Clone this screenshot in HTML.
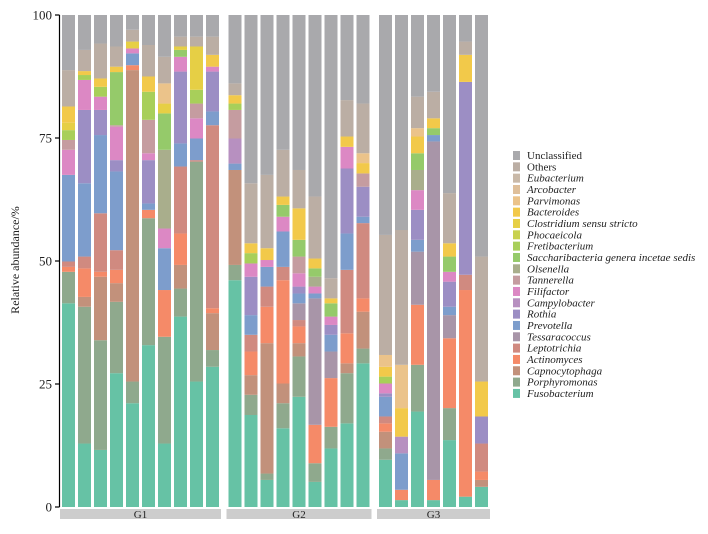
<!DOCTYPE html>
<html><head><meta charset="utf-8"><style>
body{margin:0;background:#fff;width:708px;height:529px;overflow:hidden}
svg text{font-family:"Liberation Serif",serif}
</style></head><body>
<svg id="chart" width="708" height="529" xmlns="http://www.w3.org/2000/svg"></svg>
<script>
const categories=["Fusobacterium","Porphyromonas","Capnocytophaga","Actinomyces","Leptotrichia","Tessaracoccus","Prevotella","Rothia","Campylobacter","Filifactor","Tannerella","Olsenella","Saccharibacteria genera incetae sedis","Fretibacterium","Phocaeicola","Clostridium sensu stricto","Bacteroides","Parvimonas","Arcobacter","Eubacterium","Others","Unclassified"];
const colors=["#66c2a5","#8fa98d","#c2917b","#f58a68","#d08a80","#a895a8","#7d9dcc","#9c8ec4","#b790c0","#dc88c4","#c59ca0","#a9ae8c","#95ca6a","#a8cf5a","#c8d14e","#e6cf45","#f2c94a","#ebc38a","#dfbf9a","#c9b9a8","#bbaea4","#a9a9ac"];
const groups=["G1","G2","G3"];
const groupSizes=[10,9,7];
const yTicks=[0,25,50,75,100];
const abundance=[
[41.4,6.4,0,1.0,1.1,0,17.6,0,0,5.1,2.0,0,0,2.0,0,1.5,3.3,0,0,0,7.4,11.2],
[12.9,27.8,2.0,5.8,2.4,0,14.9,14.9,0,6.1,0,0,0,1.0,0,0,0.8,0,0,0,4.3,7.1],
[11.6,22.3,12.9,1.0,11.9,0,15.9,5.1,0,2.7,0,0,0,2.0,0,0,1.7,0,0,0,7.1,5.8],
[27.2,14.5,3.8,2.7,4.0,0,16.0,2.3,0,6.8,0.3,0,10.8,0,0,0,1.1,0,0,0,4.1,6.4],
[21.1,4.4,63.3,1.0,0,0,2.4,0,0,1.0,0,0,0,0,0,1.4,0,0,0,0,2.4,3.0],
[32.9,25.8,0,1.7,0,0,1.3,8.8,0,1.4,6.8,0,0,5.7,0,0,3.1,0,0,0,6.4,6.1],
[12.9,21.7,0,9.5,0,0,8.5,0,0,4.0,0,16.0,7.4,0,0,2.0,0,4.1,0,0,5.4,8.5],
[38.7,5.7,4.8,6.4,13.6,0,4.7,14.6,0,3.0,0,0,1.4,0,0,0.7,0,0,0,0,2.0,4.4],
[25.5,44.7,0,0,0.3,0,4.4,0,0,4.1,3.0,0,0,2.8,0,8.8,0,0,0,0,2.0,4.4],
[28.5,3.4,7.5,1.0,37.2,0,2.8,8.1,0,1.0,0,0,0,0,0,0,2.4,0,0,0,3.7,4.4],
[46.1,3.1,19.3,0,0,0,1.3,0,5.1,0,5.8,0,0,1.3,0,0,1.7,0,0,0,2.4,13.9],
[18.7,4.1,4.0,4.8,3.4,0,4.0,7.8,0,2.7,0,0,0,2.1,0,0,2.0,0,0,0,12.2,34.2],
[5.5,1.3,26.5,7.4,4.1,0,4.0,0,0,1.4,0,0,0,0,0,0,2.4,0,0,0,14.9,32.5],
[16.0,5.1,4.0,21.0,2.7,0,7.2,0,0,3.0,0,0,2.4,0,0,0,1.7,0,0,0,9.5,27.4],
[22.4,8.2,2.7,3.4,1.3,3.4,2.0,1.4,0,2.7,3.4,0,3.4,0,0,0,6.4,0,0,0,7.8,31.5],
[5.1,3.8,0,7.8,0,25.7,1.0,0,0,1.4,0,2.0,1.7,0,0,0,2.0,0,0,0,12.6,36.9],
[11.9,4.4,0,9.9,0,5.4,3.4,2.0,0,1.7,0,0,2.7,0,0,0,1.0,0,0,0,4.1,53.5],
[17.0,10.2,2.0,6.1,12.9,0,7.4,13.2,0,4.4,0,0,0,0,0,0,2.1,0,0,0,7.4,17.3],
[29.2,3.0,7.5,2.7,15.3,0,1.3,6.1,0,0,2.7,0,0,0,0,0,2.1,2.0,0,0,10.1,18.0],
[9.6,2.3,3.4,1.7,1.4,0,4.0,0.7,0,2.0,0,0,0,1.4,0,0,2.0,2.4,0,0,24.4,44.7],
[1.4,0,0,2.1,0,0,7.4,0,3.4,0,0,0,0,0,0,0,5.8,8.8,0,0,27.4,43.7],
[19.4,9.5,0,12.2,0,10.8,2.4,6.1,0,4.0,0,4.1,3.4,0,0,0,3.4,1.7,0,0,6.4,16.6],
[1.4,0,0,4.1,0,68.8,1.3,0,0,0,0,0,1.4,0,0,0,2.0,0,0,0,5.4,15.6],
[13.6,6.5,0,14.2,0,4.7,1.7,5.1,0,2.0,0,0,3.1,0,0,0,2.7,0,0,0,10.2,36.2],
[2.1,0,0,42.0,3.1,0,0,39.2,0,0,0,0,0,0,0,0,5.5,0,0,0,2.7,5.4],
[4.1,0,1.4,1.7,5.7,0,0,5.5,0,0,0,0,0,0,0,0,7.1,0,0,0,25.4,49.1]
];
const NS="http://www.w3.org/2000/svg";
const svg=document.getElementById('chart');
function mk(t,a,p){const e=document.createElementNS(NS,t);for(const k in a)e.setAttribute(k,a[k]);(p||svg).appendChild(e);return e;}
const y0=507,y1=15;
function yScale(v){return y0-(v/100)*(y0-y1);}
function xScale(i){let g=0,c=0;for(let k=0;k<groupSizes.length;k++){if(i<c+groupSizes[k]){g=k;break;}c+=groupSizes[k];}return 62+16*i+6.5*g;}
const bw=13;
// bars
abundance.forEach((row,i)=>{
  const g=mk('g',{});
  
  
  let cum=0;
  row.forEach((v,j)=>{
    if(v<=0)return;
    const top=(j===row.length-1)?100:Math.min(100,cum+v);
    const r=mk('rect',{x:xScale(i),y:yScale(top),width:bw,height:yScale(cum)-yScale(top),fill:colors[j]},g);
    
    
    cum+=v;
  });
});
// axis
const ax=mk('line',{x1:59.5,y1:y1,x2:59.5,y2:y0,stroke:'#000','stroke-width':1.2});


yTicks.forEach(t=>{
  const y=yScale(t);
  const tk=mk('line',{x1:55,y1:y,x2:59.5,y2:y,stroke:'#000','stroke-width':1.2});
  
  
  const tx=mk('text',{x:52,y:y+4.5,'text-anchor':'end','font-size':13,fill:'#222'});
  tx.textContent=t;
  
  
});
const yt=mk('text',{x:0,y:0,transform:'translate(19,260) rotate(-90)','text-anchor':'middle','font-size':12,fill:'#222'});
yt.textContent='Relative abundance/%';


// group strips
let start=0;
groups.forEach((gname,k)=>{
  const xa=xScale(start)-2, xb=xScale(start+groupSizes[k]-1)+bw+2;
  const r=mk('rect',{x:xa,y:509,width:xb-xa,height:10,fill:'#cdcdcd'});
  
  
  const t=mk('text',{x:(xa+xb)/2,y:518,'text-anchor':'middle','font-size':11,fill:'#222'});
  t.textContent=gname;
  
  
  start+=groupSizes[k];
});
// legend
const lg=mk('g',{});


for(let j=categories.length-1;j>=0;j--){
  const idx=categories.length-1-j;
  const y=155+idx*11.33;
  const e=mk('g',{},lg);
  
  
  mk('rect',{x:513,y:y-4,width:7,height:9,fill:colors[j]},e);
  const italic=(j<categories.length-2);
  const t=mk('text',{x:527,y:y+4,'font-size':11,'font-style':italic?'italic':'normal',fill:'#222'},e);
  t.textContent=categories[j];
}
</script>
</body></html>
